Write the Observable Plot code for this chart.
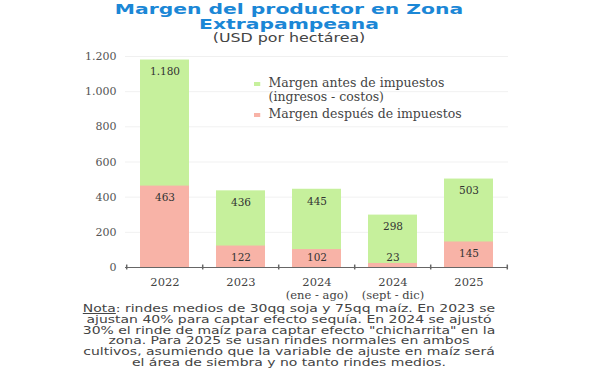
<!DOCTYPE html>
<html>
<head>
<meta charset="utf-8">
<script src="https://cdn.jsdelivr.net/npm/d3@7"></script>
<script src="https://cdn.jsdelivr.net/npm/@observablehq/plot@0.6"></script>
<style>
  html, body { margin: 0; padding: 0; background: #fff; }
  #wrap { position: relative; width: 600px; height: 373px; overflow: hidden; }
  .stretch { position: absolute; left: 0; width: 578px; text-align: center; transform-origin: 289px 0; white-space: nowrap; }
  #title1, #title2 { font-family: "DejaVu Sans", sans-serif; font-weight: bold; font-size: 14.5px; line-height: 14px; color: #1b87d6; transform: scaleX(1.4); }
  #title1 { top: 2px; }
  #title2 { top: 17px; }
  #subtitle { top: 32px; font-family: "DejaVu Sans", sans-serif; font-size: 12px; line-height: 12px; color: #444; transform: scaleX(1.32); }
  #chart { position: absolute; left: 0; top: 46px; }
  #legend { position: absolute; left: 254px; top: 77px; font-family: "DejaVu Serif", serif; font-size: 12px; color: #444; line-height: 13.5px; transform: scaleX(1.04); transform-origin: 0 0; }
  #legend .item { position: relative; padding-left: 14px; }
  #legend .sw { position: absolute; left: 0; top: 5px; width: 6px; height: 4px; }
  #note { top: 303px; font-family: "DejaVu Sans", sans-serif; font-size: 10.5px; line-height: 10.8px; color: #444; transform: scaleX(1.33); }
  #note u { text-decoration: underline; }
</style>
</head>
<body>
<div id="wrap">
  <div id="title1" class="stretch">Margen del productor en Zona</div>
  <div id="title2" class="stretch">Extrapampeana</div>
  <div id="subtitle" class="stretch">(USD por hectárea)</div>
  <div id="chart"></div>
  <div id="legend"></div>
  <div id="note" class="stretch"><u>Nota</u>: rindes medios de 30qq soja y 75qq maíz. En 2023 se<br>ajustan 40% para captar efecto sequía. En 2024 se ajustó<br>30% el rinde de maíz para captar efecto "chicharrita" en la<br>zona. Para 2025 se usan rindes normales en ambos<br>cultivos, asumiendo que la variable de ajuste en maíz será<br>el área de siembra y no tanto rindes medios.</div>
</div>
<script>
const categories = ["2022", "2023", "2024\n(ene - ago)", "2024\n(sept - dic)", "2025"];
const antes = [1180, 436, 445, 298, 503];
const despues = [463, 122, 102, 23, 145];
const yTicks = [0, 200, 400, 600, 800, 1000, 1200];
const seriesNames = ["Margen antes de impuestos\n(ingresos - costos)", "Margen después de impuestos"];
const colors = ["#c6f09c", "#f8b3a7"];

const data = categories.map((c, i) => ({cat: c, antes: antes[i], despues: despues[i]}));
const fmt = v => d3.format(",")(v).replace(/,/g, ".");

const width = 600, marginLeft = 125, marginRight = 92;
const bw = (width - marginLeft - marginRight) / categories.length;

const chart = Plot.plot({
  width, height: 255,
  marginLeft, marginRight, marginTop: 10, marginBottom: 34,
  style: {fontFamily: "DejaVu Serif, serif", fontSize: "11px", color: "#555", background: "transparent"},
  x: {domain: categories, paddingInner: 0.35, paddingOuter: 0.175, label: null},
  y: {domain: [0, 1200], label: null},
  marks: [
    Plot.gridY(yTicks.filter(d => d > 0), {stroke: "#000", strokeOpacity: 0.06}),
    Plot.barY(data, {x: "cat", y: "antes", fill: colors[0]}),
    Plot.barY(data, {x: "cat", y: "despues", fill: colors[1]}),
    Plot.text(data, {x: "cat", y: "antes", text: d => fmt(d.antes), dy: 12, fontSize: 10.5, fill: "#333"}),
    Plot.text(data, {x: "cat", y: d => Math.max(d.despues, 122), text: d => fmt(d.despues), dy: 12, fontSize: 10.5, fill: "#333"}),
    Plot.ruleY([0], {stroke: "#666", strokeWidth: 1.2}),
    Plot.ruleX(categories, {x: d => d, y1: -14, y2: 14, dx: -bw / 2, stroke: "#666", strokeWidth: 1.5}),
    Plot.ruleX(categories.slice(-1), {x: d => d, y1: -14, y2: 14, dx: bw / 2, stroke: "#666", strokeWidth: 1.5}),
    Plot.axisX({tickSize: 0, tickPadding: 10, fontSize: 11.5, fill: "#444", lineHeight: 1.1}),
    Plot.axisY({ticks: yTicks, tickSize: 0, tickPadding: 9, tickFormat: fmt, fill: "#555"})
  ]
});
document.getElementById("chart").appendChild(chart);

const legend = document.getElementById("legend");
seriesNames.forEach((name, i) => {
  const item = document.createElement("div");
  item.className = "item";
  item.style.marginBottom = i === 0 ? "4px" : "0";
  const sw = document.createElement("span");
  sw.className = "sw";
  sw.style.background = colors[i];
  item.appendChild(sw);
  name.split("\n").forEach((line, j) => {
    if (j) item.appendChild(document.createElement("br"));
    item.appendChild(document.createTextNode(line));
  });
  legend.appendChild(item);
});
</script>
</body>
</html>
